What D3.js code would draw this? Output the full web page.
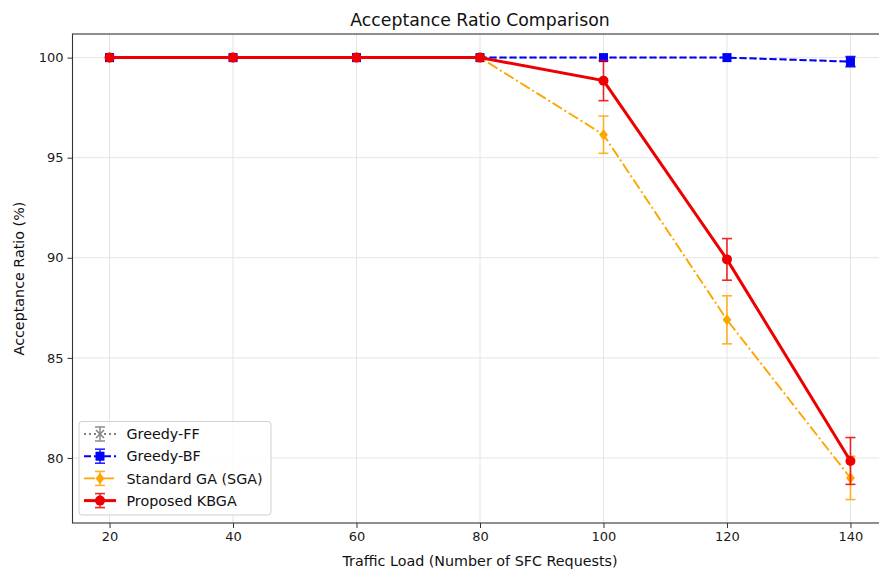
<!DOCTYPE html>
<html>
<head>
<meta charset="utf-8">
<script src="https://cdn.jsdelivr.net/npm/d3@7"></script>
<style>
  body { margin: 0; background: #fff; }
  svg { display: block; font-family: "DejaVu Sans", sans-serif; }
</style>
</head>
<body>
<div id="chart"></div>
<script>
// values
var loads = [20, 40, 60, 80, 100, 120, 140];
var ffMean = [100, 100, 100, 100, 100, 100, 99.8];
var ffErr = [0, 0, 0, 0, 0, 0, 0.25];
var bfMean = [100, 100, 100, 100, 100, 100, 99.8];
var bfErr = [0, 0, 0, 0, 0, 0, 0.25];
var sgaMean = [100, 100, 100, 100, 96.15, 86.9, 79.0];
var sgaErr = [0, 0, 0, 0, 0.93, 1.2, 1.08];
var kbgaMean = [100, 100, 100, 100, 98.85, 89.92, 79.85];
var kbgaErr = [0, 0, 0, 0, 1.0, 1.04, 1.17];
var seriesNames = ["Greedy-FF", "Greedy-BF", "Standard GA (SGA)", "Proposed KBGA"];
var xTicks = [20, 40, 60, 80, 100, 120, 140];
var yTicks = [80, 85, 90, 95, 100];

var svgWidth = 879, svgHeight = 570;
var plot = { left: 72.5, right: 887.5, top: 34, bottom: 523 };

var series = [
  { name: seriesNames[0], mean: ffMean, err: ffErr, color: "gray", width: 1.8, dash: "2,3", marker: "x", size: 4 },
  { name: seriesNames[1], mean: bfMean, err: bfErr, color: "#0000ff", width: 2, dash: "7,3", marker: "square", size: 4.5 },
  { name: seriesNames[2], mean: sgaMean, err: sgaErr, color: "#ffa500", width: 1.9, dash: "11,3,2,3", marker: "diamond", size: 5.5 },
  { name: seriesNames[3], mean: kbgaMean, err: kbgaErr, color: "#ee0000", width: 3, dash: null, marker: "circle", size: 5 }
];

var svg = d3.select("#chart").append("svg")
  .attr("width", svgWidth)
  .attr("height", svgHeight);

var x = d3.scaleLinear().domain([14, 146]).range([plot.left, plot.right]);
var y = d3.scaleLinear().domain([76.75, 101.18]).range([plot.bottom, plot.top]);

// grid
var grid = svg.append("g").attr("class", "grid");
grid.selectAll(".gx").data(xTicks).enter().append("line")
  .attr("x1", d => x(d)).attr("x2", d => x(d))
  .attr("y1", plot.top).attr("y2", plot.bottom)
  .attr("stroke", "#e4e4e4").attr("stroke-width", 1);
grid.selectAll(".gy").data(yTicks).enter().append("line")
  .attr("x1", plot.left).attr("x2", plot.right)
  .attr("y1", d => y(d)).attr("y2", d => y(d))
  .attr("stroke", "#e4e4e4").attr("stroke-width", 1);

function drawMarker(g, type, cx, cy, s, color) {
  if (type == "circle") {
    g.append("circle").attr("cx", cx).attr("cy", cy).attr("r", s).attr("fill", color);
  } else if (type == "square") {
    g.append("rect").attr("x", cx - s).attr("y", cy - s).attr("width", 2 * s).attr("height", 2 * s)
      .attr("fill", color);
  } else if (type == "diamond") {
    g.append("path").attr("d", "M" + cx + "," + (cy - s) + "L" + (cx + s * 0.8) + "," + cy + "L" + cx + "," + (cy + s) + "L" + (cx - s * 0.8) + "," + cy + "Z")
      .attr("fill", color);
  } else if (type == "x") {
    g.append("path").attr("d", "M" + (cx - s) + "," + (cy - s) + "L" + (cx + s) + "," + (cy + s) + "M" + (cx - s) + "," + (cy + s) + "L" + (cx + s) + "," + (cy - s))
      .attr("stroke", color).attr("stroke-width", 1.5).attr("fill", "none");
  }
}

var line = d3.line().x(d => x(d[0])).y(d => y(d[1]));

series.forEach(function(s) {
  var g = svg.append("g").attr("class", "series");
  var pts = loads.map((l, i) => [l, s.mean[i], s.err[i]]);
  // error bars
  pts.filter(p => p[2] > 0).forEach(function(p) {
    var eb = g.append("g").attr("stroke", s.color).attr("stroke-width", 1.6).attr("opacity", 0.85);
    eb.append("line").attr("x1", x(p[0])).attr("x2", x(p[0])).attr("y1", y(p[1] - p[2])).attr("y2", y(p[1] + p[2]));
    [p[1] - p[2], p[1] + p[2]].forEach(function(v) {
      eb.append("line").attr("x1", x(p[0]) - 5).attr("x2", x(p[0]) + 5).attr("y1", y(v)).attr("y2", y(v));
    });
  });
  g.append("path").datum(pts)
    .attr("d", line)
    .attr("fill", "none")
    .attr("stroke", s.color)
    .attr("stroke-width", s.width)
    .attr("stroke-dasharray", s.dash);
  pts.forEach(function(p) {
    drawMarker(g, s.marker, x(p[0]), y(p[1]), s.size, s.color);
  });
});

// axes
var xAxis = svg.append("g")
  .attr("transform", "translate(0," + plot.bottom + ")")
  .call(d3.axisBottom(x).tickValues(xTicks).tickSize(5).tickPadding(4).tickSizeOuter(0));
var yAxis = svg.append("g")
  .attr("transform", "translate(" + plot.left + ",0)")
  .call(d3.axisLeft(y).tickValues(yTicks).tickSize(5).tickPadding(4).tickSizeOuter(0));
[xAxis, yAxis].forEach(function(a) {
  a.select(".domain").remove();
  a.selectAll("text").attr("font-size", "13px").attr("fill", "#1a1a1a").attr("font-family", "DejaVu Sans, sans-serif");
  a.selectAll(".tick line").attr("stroke", "#333");
});

// frame
svg.append("rect")
  .attr("x", plot.left).attr("y", plot.top)
  .attr("width", plot.right - plot.left).attr("height", plot.bottom - plot.top)
  .attr("fill", "none").attr("stroke", "#333").attr("stroke-width", 1.1);

// title and labels
svg.append("text")
  .attr("x", (350 + 610) / 2).attr("y", 26)
  .attr("text-anchor", "middle").attr("font-size", "17.3px").attr("fill", "#111")
  .text("Acceptance Ratio Comparison");
svg.append("text")
  .attr("x", 480).attr("y", 566)
  .attr("text-anchor", "middle").attr("font-size", "14.3px").attr("fill", "#111")
  .text("Traffic Load (Number of SFC Requests)");
svg.append("text")
  .attr("transform", "translate(24," + (plot.top + plot.bottom) / 2 + ") rotate(-90)")
  .attr("text-anchor", "middle").attr("font-size", "14.3px").attr("fill", "#111")
  .text("Acceptance Ratio (%)");

// legend
var legend = svg.append("g").attr("class", "legend");
legend.append("rect")
  .attr("x", 79).attr("y", 421.5).attr("width", 192).attr("height", 93.5).attr("rx", 3)
  .attr("fill", "#fff").attr("fill-opacity", 0.85)
  .attr("stroke", "#d0d0d0").attr("stroke-width", 1);
series.forEach(function(s, i) {
  var cy = 434 + i * 22.2;
  var lg = legend.append("g");
  lg.append("line").attr("x1", 84).attr("x2", 116).attr("y1", cy).attr("y2", cy)
    .attr("stroke", s.color).attr("stroke-width", s.width).attr("stroke-dasharray", s.dash);
  var eb = lg.append("g").attr("stroke", s.color).attr("stroke-width", 1.6).attr("opacity", 0.85);
  eb.append("line").attr("x1", 100).attr("x2", 100).attr("y1", cy - 7).attr("y2", cy + 7);
  eb.append("line").attr("x1", 95).attr("x2", 105).attr("y1", cy - 7).attr("y2", cy - 7);
  eb.append("line").attr("x1", 95).attr("x2", 105).attr("y1", cy + 7).attr("y2", cy + 7);
  drawMarker(lg, s.marker, 100, cy, s.size, s.color);
  lg.append("text").attr("x", 126.5).attr("y", cy).attr("dy", "0.36em")
    .attr("font-size", "14.3px").attr("fill", "#111").text(s.name);
});
</script>
</body>
</html>
